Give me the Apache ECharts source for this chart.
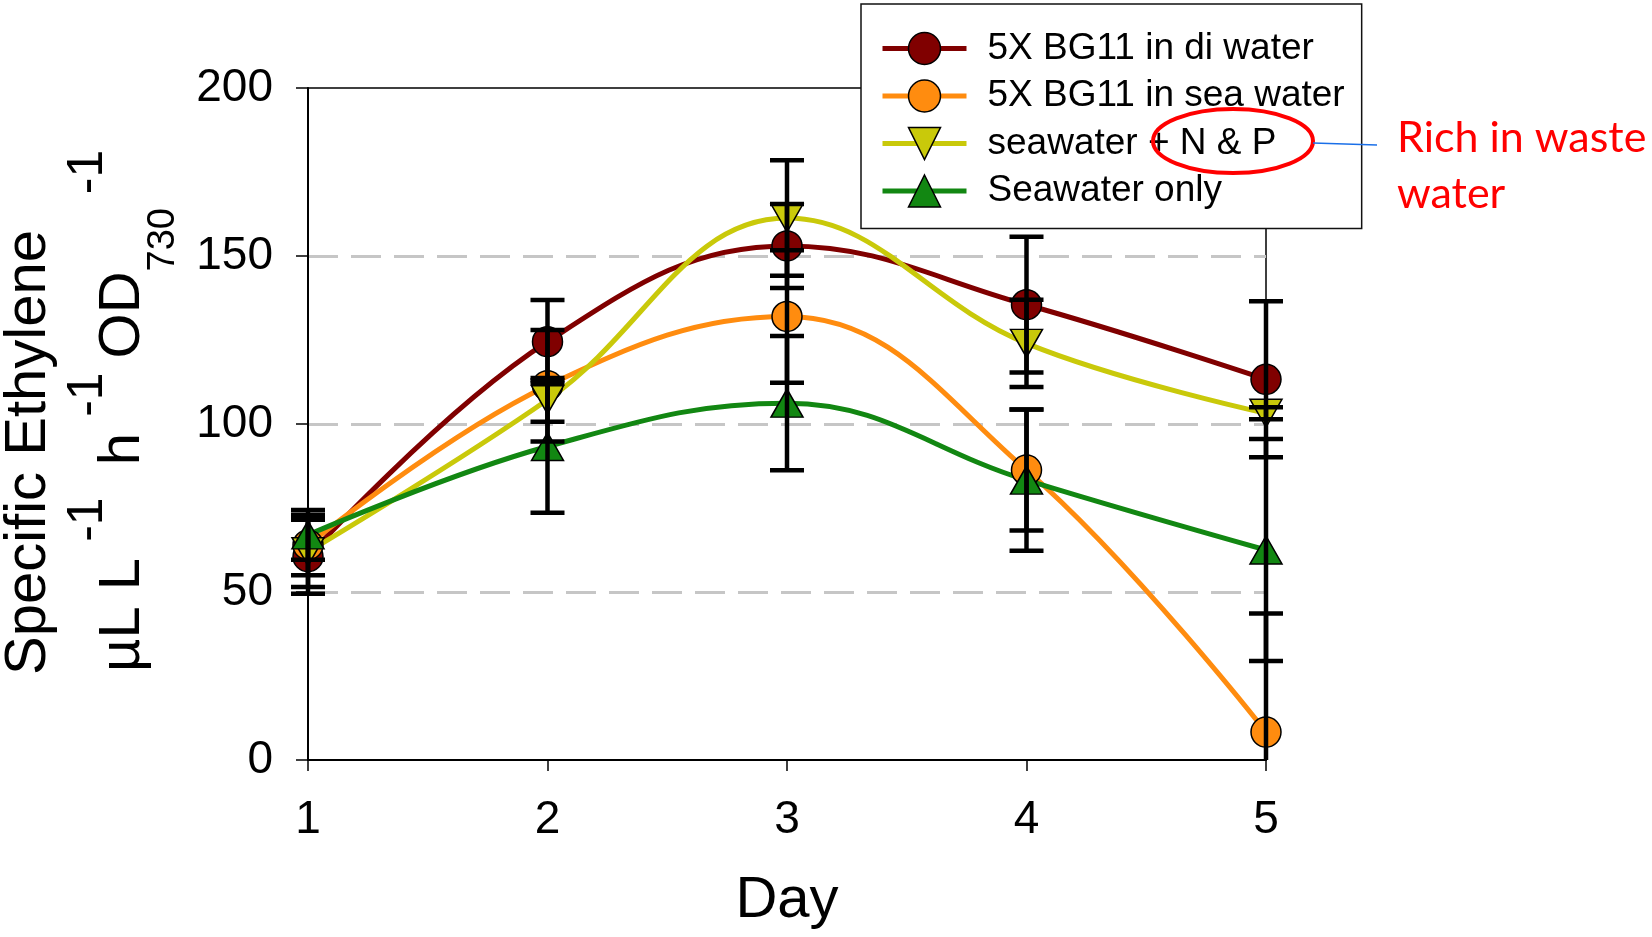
<!DOCTYPE html>
<html>
<head>
<meta charset="utf-8">
<script src="https://cdn.jsdelivr.net/npm/echarts/dist/echarts.min.js"></script>
<style>
  html, body { margin: 0; padding: 0; background: #fff; }
  #chart { width: 1652px; height: 937px; }
</style>
</head>
<body>
<div id="chart"></div>
<script>
// days on the x axis
var days = [1, 2, 3, 4, 5];
// series names (legend order)
var seriesNames = ['5X BG11 in di water', '5X BG11 in sea water', 'seawater + N & P', 'Seawater only'];
// mean specific ethylene, one array per medium
var diWater = [60.5, 124.5, 153, 135.5, 113.3];
var seaWater = [64, 111.4, 132, 86.3, 8.3];
var seaNP = [62, 107.2, 161.3, 124, 103.2];
var seaOnly = [67, 93.3, 106.2, 83.3, 62.5];
// error bar half-widths (symmetric)
var diWaterErr = [11, 12.4, 12.5, 20.2, 23.2];
var seaWaterErr = [9, 16.6, 19.7, 18, 35.3];
var seaNPErr = [10.5, 6.5, 17.2, 13, 1.8];
var seaOnlyErr = [7.4, 19.7, 20, 21, 33];
// y axis ticks
var yTicks = [0, 50, 100, 150, 200];

var FONT = '"Liberation Sans", Arial, sans-serif';
var colors = ['#800000', '#ff8c0f', '#c9c90a', '#128712'];
var symbols = ['circle', 'circle', 'path://M0,0 L10,0 L5,8.8 Z', 'triangle'];
var symSizes = [30, 30, [32, 28], [32, 28]];
var means = [diWater, seaWater, seaNP, seaOnly];
var errs = [diWaterErr, seaWaterErr, seaNPErr, seaOnlyErr];

var myChart = echarts.init(document.getElementById('chart'));

var series = [];
for (var k = 0; k < 4; k++) {
  series.push({
    name: seriesNames[k],
    type: 'line',
    smooth: 0.4,
    data: days.map(function (d, i) { return [d, means[k][i]]; }),
    symbol: symbols[k],
    symbolSize: symSizes[k],
    showAllSymbol: true,
    lineStyle: { color: colors[k], width: 5 },
    itemStyle: { color: colors[k], borderColor: '#000', borderWidth: 1.5 },
    z: 2
  });
}

// error bars, drawn over the markers
var errData = [];
for (var k = 0; k < 4; k++) {
  for (var i = 0; i < days.length; i++) {
    errData.push([days[i], means[k][i] - errs[k][i], means[k][i] + errs[k][i]]);
  }
}
series.push({
  type: 'custom',
  data: errData,
  z: 5,
  silent: true,
  renderItem: function (params, api) {
    var x = api.value(0);
    var lo = api.value(1), hi = api.value(2);
    var top = api.coord([x, hi]);
    var bot = api.coord([x, Math.max(lo, 0)]);
    var half = 17;
    var st = { stroke: '#000', lineWidth: 4.5 };
    var kids = [
      { type: 'line', shape: { x1: top[0], y1: top[1], x2: bot[0], y2: bot[1] }, style: st },
      { type: 'line', shape: { x1: top[0] - half, y1: top[1], x2: top[0] + half, y2: top[1] }, style: st }
    ];
    if (lo >= 0) {
      kids.push({ type: 'line', shape: { x1: bot[0] - half, y1: bot[1], x2: bot[0] + half, y2: bot[1] }, style: st });
    }
    return { type: 'group', children: kids };
  }
});

myChart.setOption({
  animation: false,
  backgroundColor: '#fff',
  grid: {
    left: 308, right: 386, top: 88, bottom: 177,
    show: true, borderColor: '#000', borderWidth: 1.5, backgroundColor: 'transparent'
  },
  legend: {
    data: seriesNames,
    orient: 'vertical',
    left: 861, top: 4,
    padding: [26, 17, 19, 19],
    itemWidth: 84, itemHeight: 40, itemGap: 10.5,
    backgroundColor: '#fff',
    borderColor: '#111', borderWidth: 1.5,
    textStyle: { fontFamily: FONT, fontSize: 37, color: '#000', padding: [0, 0, 0, 16] },
    lineStyle: { width: 5 },
    itemStyle: { borderColor: '#000', borderWidth: 1.5 }
  },
  xAxis: {
    type: 'value', min: 1, max: 5, interval: 1,
    axisLine: { onZero: false, lineStyle: { color: '#000', width: 2 } },
    axisTick: { inside: false, length: 11, lineStyle: { color: '#000', width: 1.5 } },
    axisLabel: { margin: 37, fontFamily: FONT, fontSize: 46, color: '#000' },
    splitLine: { show: false }
  },
  yAxis: {
    type: 'value', min: yTicks[0], max: yTicks[yTicks.length - 1], interval: 50,
    axisLine: { show: true, lineStyle: { color: '#000', width: 2 } },
    axisTick: { show: true, inside: false, length: 12, lineStyle: { color: '#000', width: 1.5 } },
    axisLabel: { margin: 35, fontFamily: FONT, fontSize: 46, color: '#000' },
    splitLine: {
      show: true, showMinLine: false, showMaxLine: false,
      lineStyle: { color: '#c6c6c6', width: 3, type: [30, 13] }
    }
  },
  graphic: [
    {
      type: 'text', x: 29, y: 675, rotation: Math.PI / 2, z: 50,
      style: {
        text: 'Specific Ethylene', fontFamily: FONT, fontSize: 58, fill: '#000',
        align: 'left', verticalAlign: 'middle'
      }
    },
    {
      type: 'text', x: 123, y: 672, rotation: Math.PI / 2, z: 50,
      style: {
        text: '{m|µL L }{s|-1}{m|  h }{s|-1 }{m|OD}{b|730}{s| -1}',
        fontFamily: FONT, fontSize: 58, fill: '#000',
        align: 'left', verticalAlign: 'middle',
        rich: {
          m: { fontFamily: FONT, fontSize: 58, lineHeight: 120, verticalAlign: 'middle', fill: '#000' },
          s: { fontFamily: FONT, fontSize: 50, lineHeight: 61, verticalAlign: 'top', fill: '#000' },
          b: { fontFamily: FONT, fontSize: 38, lineHeight: 100, verticalAlign: 'bottom', fill: '#000' }
        }
      }
    },
    {
      type: 'text', x: 787, y: 901, z: 50,
      style: {
        text: 'Day', fontFamily: FONT, fontSize: 58, fill: '#000',
        align: 'center', verticalAlign: 'middle'
      }
    },
    {
      type: 'ellipse', z: 100,
      shape: { cx: 1233, cy: 141, rx: 80, ry: 32 },
      style: { fill: 'none', stroke: '#ff0000', lineWidth: 4 }
    },
    {
      type: 'line', z: 100,
      shape: { x1: 1313, y1: 143, x2: 1377, y2: 145 },
      style: { stroke: '#1a6fe8', lineWidth: 1.5 }
    },
    {
      type: 'text', x: 1397, y: 110, z: 100,
      style: {
        text: 'Rich in waste\nwater', fontFamily: 'Lato, "Open Sans", sans-serif', fontSize: 43,
        lineHeight: 56, fill: '#ff0000', align: 'left', verticalAlign: 'top'
      }
    }
  ],
  series: series
});
</script>
</body>
</html>
